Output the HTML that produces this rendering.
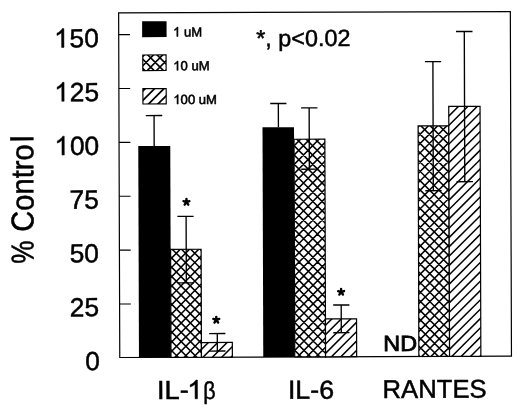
<!DOCTYPE html>
<html><head><meta charset="utf-8">
<style>
html,body{margin:0;padding:0;background:#fff;}
body{width:520px;height:409px;overflow:hidden;font-family:"Liberation Sans",sans-serif;}
svg{display:block;filter:grayscale(1);}
text{font-family:"Liberation Sans",sans-serif;fill:#000;}
.t text,text.t{stroke:#000;stroke-width:0.5px;}
.tl text{stroke:#000;stroke-width:0.55px;}
</style></head><body>
<svg width="520" height="409" viewBox="0 0 520 409">
<defs>
<clipPath id="c1"><rect x="143.20" y="54.40" width="23.30" height="15.60"/></clipPath>
<clipPath id="c2"><rect x="143.20" y="88.10" width="23.30" height="15.30"/></clipPath>
<clipPath id="c3"><rect x="170.40" y="248.88" width="30.50" height="107.97"/></clipPath>
<clipPath id="c4"><rect x="200.90" y="342.20" width="30.90" height="14.65"/></clipPath>
<clipPath id="c5"><rect x="294.20" y="139.20" width="30.80" height="217.65"/></clipPath>
<clipPath id="c6"><rect x="325.00" y="318.92" width="31.10" height="37.93"/></clipPath>
<clipPath id="c7"><rect x="418.30" y="126.27" width="30.70" height="230.58"/></clipPath>
<clipPath id="c8"><rect x="449.00" y="106.87" width="31.30" height="249.98"/></clipPath>
</defs>
<rect width="520" height="409" fill="#fff"/>
<g transform="rotate(-0.19 315 184.5)">
<rect x="119.2" y="12.25" width="391.7" height="344.6" fill="none" stroke="#000" stroke-width="1.2"/>
<g stroke="#000" stroke-width="1.1">
<line x1="119.2" x2="130.5" y1="303.38" y2="303.38"/>
<line x1="119.2" x2="130.5" y1="249.50" y2="249.50"/>
<line x1="119.2" x2="130.5" y1="195.63" y2="195.63"/>
<line x1="119.2" x2="130.5" y1="141.75" y2="141.75"/>
<line x1="119.2" x2="130.5" y1="87.88" y2="87.88"/>
<line x1="119.2" x2="130.5" y1="34.00" y2="34.00"/>
</g>
<g font-size="26.3" text-anchor="end" class="t">
<path d="M763 0H583V1147Q518 1085 412.5 1023T223 930V1104Q373 1175 485.5 1276T647 1472H763Z" transform="translate(54.6,46.6) scale(0.01284,-0.01284)" fill="#000" stroke="#000" stroke-width="38.9"/>
<text x="99.3" y="46.60">50</text>
<path d="M763 0H583V1147Q518 1085 412.5 1023T223 930V1104Q373 1175 485.5 1276T647 1472H763Z" transform="translate(54.6,100.4) scale(0.01284,-0.01284)" fill="#000" stroke="#000" stroke-width="38.9"/>
<text x="99.3" y="100.40">25</text>
<path d="M763 0H583V1147Q518 1085 412.5 1023T223 930V1104Q373 1175 485.5 1276T647 1472H763Z" transform="translate(54.6,154.2) scale(0.01284,-0.01284)" fill="#000" stroke="#000" stroke-width="38.9"/>
<text x="99.3" y="154.20">00</text>
<text x="98.7" y="208.00">75</text>
<text x="98.7" y="261.80">50</text>
<text x="98.7" y="315.60">25</text>
<text x="99.3" y="369.40">0</text>
</g>
<g class="t" font-size="29.1" transform="translate(33.3,262.9) rotate(-90)" style="stroke-width:0.4px"><text transform="scale(0.9,1.085)">%</text><text transform="translate(32.16,0) scale(1,1.085)" dx="0 0 0 0 0 0 2.3">Control</text></g>
<rect x="142.65" y="20.8" width="24.45" height="15.8" fill="#000"/>
<rect x="143.20" y="54.40" width="23.30" height="15.60" fill="#fff"/>
<path clip-path="url(#c1)" d="M141.20,48.58L168.50,21.13M141.20,57.88L168.50,30.43M141.20,67.18L168.50,39.73M141.20,76.48L168.50,49.03M141.20,85.78L168.50,58.33M141.20,95.08L168.50,67.63M141.20,104.38L168.50,76.93M141.20,19.42L168.50,46.87M141.20,28.72L168.50,56.17M141.20,38.02L168.50,65.47M141.20,47.32L168.50,74.77M141.20,56.62L168.50,84.07M141.20,65.92L168.50,93.37M141.20,75.22L168.50,102.67" stroke="#000" stroke-width="1.65" fill="none"/>
<rect x="143.20" y="54.40" width="23.30" height="15.60" fill="none" stroke="#000" stroke-width="1.15"/>
<rect x="143.20" y="88.10" width="23.30" height="15.30" fill="#fff"/>
<path clip-path="url(#c2)" d="M141.20,83.04L168.50,55.94M141.20,92.37L168.50,65.27M141.20,101.70L168.50,74.60M141.20,111.03L168.50,83.93M141.20,120.36L168.50,93.26M141.20,129.69L168.50,102.59M141.20,139.02L168.50,111.92" stroke="#000" stroke-width="1.75" fill="none"/>
<rect x="143.20" y="88.10" width="23.30" height="15.30" fill="none" stroke="#000" stroke-width="1.15"/>
<g font-size="13.1" class="tl">
<path d="M763 0H583V1147Q518 1085 412.5 1023T223 930V1104Q373 1175 485.5 1276T647 1472H763Z" transform="translate(173.6,36.0) scale(0.00640,-0.00640)" fill="#000" stroke="#000" stroke-width="86.0"/>
<text x="180.88" y="36.0" xml:space="preserve"> uM</text>
<path d="M763 0H583V1147Q518 1085 412.5 1023T223 930V1104Q373 1175 485.5 1276T647 1472H763Z" transform="translate(173.6,69.9) scale(0.00640,-0.00640)" fill="#000" stroke="#000" stroke-width="86.0"/>
<text x="180.88" y="69.9" xml:space="preserve">0 uM</text>
<path d="M763 0H583V1147Q518 1085 412.5 1023T223 930V1104Q373 1175 485.5 1276T647 1472H763Z" transform="translate(173.6,103.6) scale(0.00640,-0.00640)" fill="#000" stroke="#000" stroke-width="86.0"/>
<text x="180.88" y="103.6" xml:space="preserve">00 uM</text>
</g>
<text class="t" x="256.6" y="46.1" font-size="23.4">*, p&lt;0.02</text>
<rect x="138.4" y="145.44" width="32.00" height="211.41" fill="#000"/>
<rect x="170.40" y="248.88" width="30.50" height="107.97" fill="#fff"/>
<path clip-path="url(#c3)" d="M168.40,241.94L202.90,207.25M168.40,251.24L202.90,216.55M168.40,260.54L202.90,225.85M168.40,269.84L202.90,235.15M168.40,279.14L202.90,244.45M168.40,288.44L202.90,253.75M168.40,297.74L202.90,263.05M168.40,307.04L202.90,272.35M168.40,316.34L202.90,281.65M168.40,325.64L202.90,290.95M168.40,334.94L202.90,300.25M168.40,344.24L202.90,309.55M168.40,353.54L202.90,318.85M168.40,362.84L202.90,328.15M168.40,372.14L202.90,337.45M168.40,381.44L202.90,346.75M168.40,390.74L202.90,356.05M168.40,400.04L202.90,365.35M168.40,207.96L202.90,242.65M168.40,217.26L202.90,251.95M168.40,226.56L202.90,261.25M168.40,235.86L202.90,270.55M168.40,245.16L202.90,279.85M168.40,254.46L202.90,289.15M168.40,263.76L202.90,298.45M168.40,273.06L202.90,307.75M168.40,282.36L202.90,317.05M168.40,291.66L202.90,326.35M168.40,300.96L202.90,335.65M168.40,310.26L202.90,344.95M168.40,319.56L202.90,354.25M168.40,328.86L202.90,363.55M168.40,338.16L202.90,372.85M168.40,347.46L202.90,382.15M168.40,356.76L202.90,391.45M168.40,366.06L202.90,400.75" stroke="#000" stroke-width="1.55" fill="none"/>
<rect x="170.40" y="248.88" width="30.50" height="107.97" fill="none" stroke="#000" stroke-width="1.2"/>
<rect x="200.90" y="342.20" width="30.90" height="14.65" fill="#fff"/>
<path clip-path="url(#c4)" d="M198.90,332.38L233.80,297.74M198.90,341.71L233.80,307.07M198.90,351.04L233.80,316.40M198.90,360.37L233.80,325.73M198.90,369.70L233.80,335.06M198.90,379.03L233.80,344.39M198.90,388.36L233.80,353.72M198.90,397.69L233.80,363.05" stroke="#000" stroke-width="1.5" fill="none"/>
<rect x="200.90" y="342.20" width="30.90" height="14.65" fill="none" stroke="#000" stroke-width="1.2"/>
<rect x="262.7" y="127.13" width="31.50" height="229.72" fill="#000"/>
<rect x="294.20" y="139.20" width="30.80" height="217.65" fill="#fff"/>
<path clip-path="url(#c5)" d="M292.20,129.14L327.00,94.15M292.20,138.44L327.00,103.45M292.20,147.74L327.00,112.75M292.20,157.04L327.00,122.05M292.20,166.34L327.00,131.35M292.20,175.64L327.00,140.65M292.20,184.94L327.00,149.95M292.20,194.24L327.00,159.25M292.20,203.54L327.00,168.55M292.20,212.84L327.00,177.85M292.20,222.14L327.00,187.15M292.20,231.44L327.00,196.45M292.20,240.74L327.00,205.75M292.20,250.04L327.00,215.05M292.20,259.34L327.00,224.35M292.20,268.64L327.00,233.65M292.20,277.94L327.00,242.95M292.20,287.24L327.00,252.25M292.20,296.54L327.00,261.55M292.20,305.84L327.00,270.85M292.20,315.14L327.00,280.15M292.20,324.44L327.00,289.45M292.20,333.74L327.00,298.75M292.20,343.04L327.00,308.05M292.20,352.34L327.00,317.35M292.20,361.64L327.00,326.65M292.20,370.94L327.00,335.95M292.20,380.24L327.00,345.25M292.20,389.54L327.00,354.55M292.20,398.84L327.00,363.85M292.20,97.16L327.00,132.15M292.20,106.46L327.00,141.45M292.20,115.76L327.00,150.75M292.20,125.06L327.00,160.05M292.20,134.36L327.00,169.35M292.20,143.66L327.00,178.65M292.20,152.96L327.00,187.95M292.20,162.26L327.00,197.25M292.20,171.56L327.00,206.55M292.20,180.86L327.00,215.85M292.20,190.16L327.00,225.15M292.20,199.46L327.00,234.45M292.20,208.76L327.00,243.75M292.20,218.06L327.00,253.05M292.20,227.36L327.00,262.35M292.20,236.66L327.00,271.65M292.20,245.96L327.00,280.95M292.20,255.26L327.00,290.25M292.20,264.56L327.00,299.55M292.20,273.86L327.00,308.85M292.20,283.16L327.00,318.15M292.20,292.46L327.00,327.45M292.20,301.76L327.00,336.75M292.20,311.06L327.00,346.05M292.20,320.36L327.00,355.35M292.20,329.66L327.00,364.65M292.20,338.96L327.00,373.95M292.20,348.26L327.00,383.25M292.20,357.56L327.00,392.55M292.20,366.86L327.00,401.85" stroke="#000" stroke-width="1.55" fill="none"/>
<rect x="294.20" y="139.20" width="30.80" height="217.65" fill="none" stroke="#000" stroke-width="1.2"/>
<rect x="325.00" y="318.92" width="31.10" height="37.93" fill="#fff"/>
<path clip-path="url(#c6)" d="M323.00,308.69L358.10,273.86M323.00,318.02L358.10,283.19M323.00,327.35L358.10,292.52M323.00,336.68L358.10,301.85M323.00,346.01L358.10,311.18M323.00,355.34L358.10,320.51M323.00,364.67L358.10,329.84M323.00,374.00L358.10,339.17M323.00,383.33L358.10,348.50M323.00,392.66L358.10,357.83M323.00,401.99L358.10,367.16" stroke="#000" stroke-width="1.5" fill="none"/>
<rect x="325.00" y="318.92" width="31.10" height="37.93" fill="none" stroke="#000" stroke-width="1.2"/>
<rect x="418.30" y="126.27" width="30.70" height="230.58" fill="#fff"/>
<path clip-path="url(#c7)" d="M416.30,119.95L451.00,85.06M416.30,129.25L451.00,94.36M416.30,138.55L451.00,103.66M416.30,147.85L451.00,112.96M416.30,157.15L451.00,122.26M416.30,166.45L451.00,131.56M416.30,175.75L451.00,140.86M416.30,185.05L451.00,150.16M416.30,194.35L451.00,159.46M416.30,203.65L451.00,168.76M416.30,212.95L451.00,178.06M416.30,222.25L451.00,187.36M416.30,231.55L451.00,196.66M416.30,240.85L451.00,205.96M416.30,250.15L451.00,215.26M416.30,259.45L451.00,224.56M416.30,268.75L451.00,233.86M416.30,278.05L451.00,243.16M416.30,287.35L451.00,252.46M416.30,296.65L451.00,261.76M416.30,305.95L451.00,271.06M416.30,315.25L451.00,280.36M416.30,324.55L451.00,289.66M416.30,333.85L451.00,298.96M416.30,343.15L451.00,308.26M416.30,352.45L451.00,317.56M416.30,361.75L451.00,326.86M416.30,371.05L451.00,336.16M416.30,380.35L451.00,345.46M416.30,389.65L451.00,354.76M416.30,398.95L451.00,364.06M416.30,84.15L451.00,119.04M416.30,93.45L451.00,128.34M416.30,102.75L451.00,137.64M416.30,112.05L451.00,146.94M416.30,121.35L451.00,156.24M416.30,130.65L451.00,165.54M416.30,139.95L451.00,174.84M416.30,149.25L451.00,184.14M416.30,158.55L451.00,193.44M416.30,167.85L451.00,202.74M416.30,177.15L451.00,212.04M416.30,186.45L451.00,221.34M416.30,195.75L451.00,230.64M416.30,205.05L451.00,239.94M416.30,214.35L451.00,249.24M416.30,223.65L451.00,258.54M416.30,232.95L451.00,267.84M416.30,242.25L451.00,277.14M416.30,251.55L451.00,286.44M416.30,260.85L451.00,295.74M416.30,270.15L451.00,305.04M416.30,279.45L451.00,314.34M416.30,288.75L451.00,323.64M416.30,298.05L451.00,332.94M416.30,307.35L451.00,342.24M416.30,316.65L451.00,351.54M416.30,325.95L451.00,360.84M416.30,335.25L451.00,370.14M416.30,344.55L451.00,379.44M416.30,353.85L451.00,388.74M416.30,363.15L451.00,398.04" stroke="#000" stroke-width="1.55" fill="none"/>
<rect x="418.30" y="126.27" width="30.70" height="230.58" fill="none" stroke="#000" stroke-width="1.2"/>
<rect x="449.00" y="106.87" width="31.30" height="249.98" fill="#fff"/>
<path clip-path="url(#c8)" d="M447.00,99.87L482.30,64.83M447.00,109.20L482.30,74.16M447.00,118.53L482.30,83.49M447.00,127.86L482.30,92.82M447.00,137.19L482.30,102.15M447.00,146.52L482.30,111.48M447.00,155.85L482.30,120.81M447.00,165.18L482.30,130.14M447.00,174.51L482.30,139.47M447.00,183.84L482.30,148.80M447.00,193.17L482.30,158.13M447.00,202.50L482.30,167.46M447.00,211.83L482.30,176.79M447.00,221.16L482.30,186.12M447.00,230.49L482.30,195.45M447.00,239.82L482.30,204.78M447.00,249.15L482.30,214.11M447.00,258.48L482.30,223.44M447.00,267.81L482.30,232.77M447.00,277.14L482.30,242.10M447.00,286.47L482.30,251.43M447.00,295.80L482.30,260.76M447.00,305.13L482.30,270.09M447.00,314.46L482.30,279.42M447.00,323.79L482.30,288.75M447.00,333.12L482.30,298.08M447.00,342.45L482.30,307.41M447.00,351.78L482.30,316.74M447.00,361.11L482.30,326.07M447.00,370.44L482.30,335.40M447.00,379.77L482.30,344.73M447.00,389.10L482.30,354.06M447.00,398.43L482.30,363.39" stroke="#000" stroke-width="1.5" fill="none"/>
<rect x="449.00" y="106.87" width="31.30" height="249.98" fill="none" stroke="#000" stroke-width="1.2"/>
<g stroke="#000" stroke-width="1.35" fill="none">
<path d="M154.3,145.44 V115.0 M146,115.0 H162.5"/>
<path d="M186,215.9 V282.4 M177.3,215.9 H193.5 M177.3,282.4 H193.5"/>
<path d="M216.8,333.2 V350.7 M208.7,333.2 H224.9 M208.7,350.7 H224.9"/>
<path d="M278.6,127.13 V103.4 M270.5,103.4 H286.7"/>
<path d="M309.4,107.9 V169.2 M301.3,107.9 H317.7 M301.3,169.2 H317.7"/>
<path d="M340.8,305.1 V332.8 M332.8,305.1 H349.0 M332.8,332.8 H349.0"/>
<path d="M433.3,62.0 V191.1 M425.3,62.0 H441.6 M425.3,191.1 H441.6"/>
<path d="M464.8,32.0 V182.2 M456.5,32.0 H473 M456.5,182.2 H473"/>
</g>
<path d="M186.40,201.70 L186.40,198.60 M186.40,201.70 L189.35,200.74 M186.40,201.70 L188.22,204.21 M186.40,201.70 L184.58,204.21 M186.40,201.70 L183.45,200.74 " stroke="#000" stroke-width="2.4" stroke-linecap="round" fill="none"/>
<path d="M215.85,319.60 L215.85,316.50 M215.85,319.60 L218.80,318.64 M215.85,319.60 L217.67,322.11 M215.85,319.60 L214.03,322.11 M215.85,319.60 L212.90,318.64 " stroke="#000" stroke-width="2.4" stroke-linecap="round" fill="none"/>
<path d="M340.75,292.15 L340.75,289.05 M340.75,292.15 L343.70,291.19 M340.75,292.15 L342.57,294.66 M340.75,292.15 L338.93,294.66 M340.75,292.15 L337.80,291.19 " stroke="#000" stroke-width="2.4" stroke-linecap="round" fill="none"/>
<text class="t" style="stroke-width:0.8px" transform="translate(382.8,351.3) scale(1.065,1)" font-size="22">ND</text>
<g font-size="26" class="t">
<text transform="translate(156.3,398.4) scale(1.05,1)">IL-</text>
<g transform="translate(186.6,398.4) scale(1.05,1)"><path d="M763 0H583V1147Q518 1085 412.5 1023T223 930V1104Q373 1175 485.5 1276T647 1472H763Z" transform="translate(0,0) scale(0.01270,-0.01270)" fill="#000" stroke="#000" stroke-width="39.4"/></g>
<text transform="translate(202.6,398.6) scale(0.9,1.02)" font-size="24">β</text>
<text transform="translate(287.2,398.7) scale(1.03,1)">IL-6</text>
<text x="381.8" y="398.2" font-size="25.7">RANTES</text>
</g>
</g>
</svg>
</body></html>
